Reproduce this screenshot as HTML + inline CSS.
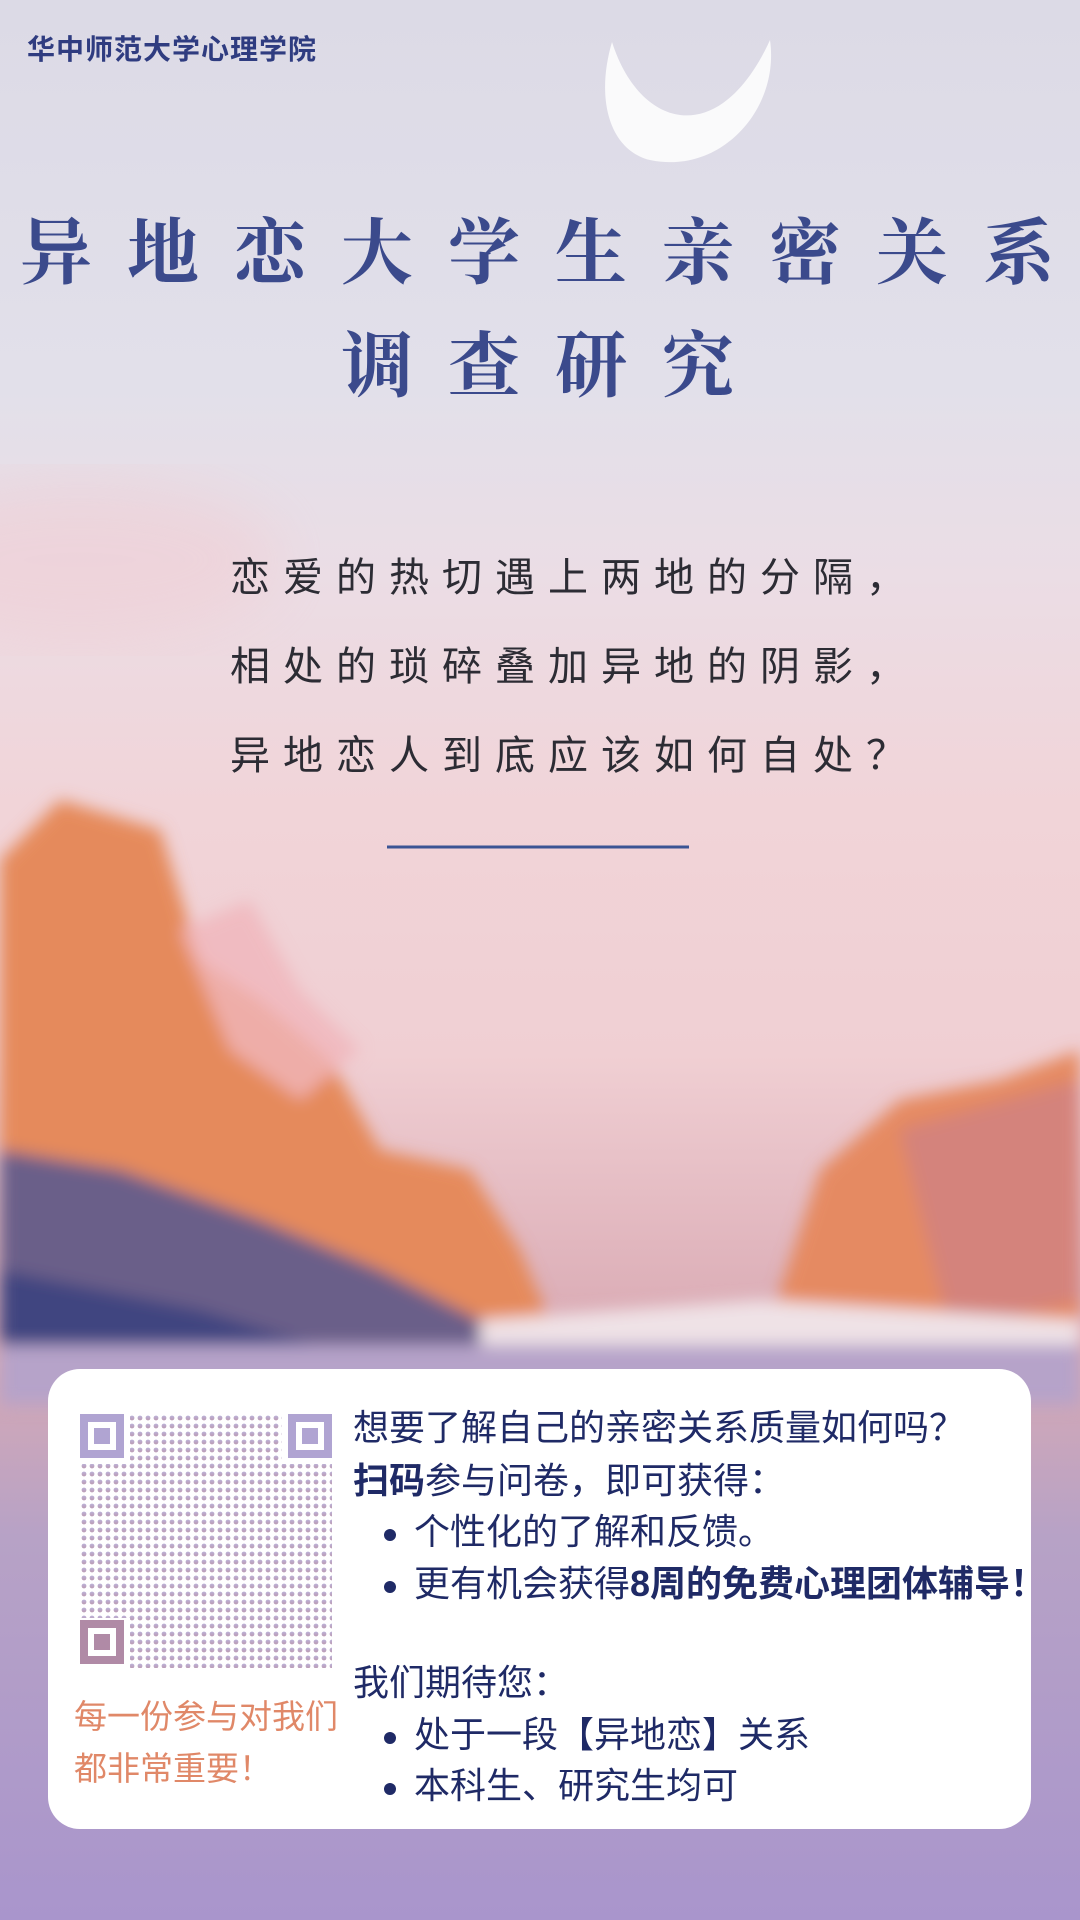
<!DOCTYPE html>
<html lang="zh">
<head>
<meta charset="utf-8">
<style>
html,body{margin:0;padding:0}
body{width:1080px;height:1920px;position:relative;overflow:hidden;font-family:"Liberation Sans","Noto Sans CJK SC",sans-serif;}
#bg{position:absolute;left:0;top:0}
.abs{position:absolute}
.hdr{left:27px;top:28px;font-size:28px;font-weight:bold;color:#2f3c80;letter-spacing:1px}
.title{color:#3b4a8c;font-weight:bold;font-family:"Noto Serif CJK SC","Noto Sans CJK SC",serif;white-space:nowrap;font-size:72px;letter-spacing:35px}
.poem{left:230px;font-size:40px;color:#2c2c34;letter-spacing:13px;white-space:nowrap}
.card{left:48px;top:1369px;width:983px;height:460px;background:#fff;border-radius:32px}
.rt{position:absolute;left:305px;font-size:36px;color:#1f2a66;white-space:nowrap}
.bul{position:relative;left:61px}
.bul::before{content:"";position:absolute;left:-30px;top:18px;width:12px;height:12px;border-radius:50%;background:#1f2a66}
.or{position:absolute;left:26px;font-size:33px;color:#e08868;white-space:nowrap}
</style>
</head>
<body>
<svg id="bg" width="1080" height="1920">
<defs>
<linearGradient id="sky" x1="0" y1="0" x2="0" y2="1">
<stop offset="0" stop-color="#dcdae6"/><stop offset="0.2" stop-color="#e2e0ea"/>
<stop offset="0.3" stop-color="#ebdde5"/><stop offset="0.42" stop-color="#f1d4d8"/>
<stop offset="0.55" stop-color="#f0cfd3"/><stop offset="0.7" stop-color="#d9a9b3"/>
<stop offset="0.8" stop-color="#b7a2c6"/><stop offset="1" stop-color="#a995cc"/>
</linearGradient>
<filter id="b1"><feGaussianBlur stdDeviation="30"/></filter>
<filter id="b2"><feGaussianBlur stdDeviation="8"/></filter>
</defs>
<rect width="1080" height="1920" fill="url(#sky)"/>
<ellipse cx="80" cy="560" rx="200" ry="80" fill="#f2c9cf" opacity="0.45" filter="url(#b1)"/>
<g filter="url(#b2)">
<polygon points="0,860 60,800 110,815 160,830 200,960 260,1000 330,1060 380,1150 470,1170 520,1250 560,1345 0,1345" fill="#e58a5c"/>
<polygon points="180,930 250,900 300,990 360,1050 300,1100 230,1050" fill="#f0b5bb" opacity="0.8"/>
<polygon points="760,1350 820,1170 900,1100 1000,1080 1080,1050 1080,1350" fill="#e58a62"/>
<polygon points="900,1130 1080,1080 1080,1300 950,1330" fill="#c87e8e" opacity="0.6"/>
<polygon points="0,1150 120,1170 260,1220 380,1270 480,1320 500,1350 0,1350" fill="#5c5a8e" opacity="0.9"/>
<polygon points="0,1270 200,1310 330,1350 0,1360" fill="#3d4280" opacity="0.9"/>
<polygon points="480,1320 760,1300 1080,1320 1080,1360 480,1360" fill="#efe2e6"/>
<rect x="0" y="1345" width="1080" height="60" fill="#b6a3c9"/>
</g>
<path d="M612,42 C640,130 720,150 770,40 C780,110 720,175 650,160 C610,150 595,100 612,42Z" fill="#fafafb"/>
<line x1="387" y1="847" x2="689" y2="847" stroke="#3b5494" stroke-width="3"/>
</svg>

<div class="abs hdr">华中师范大学心理学院</div>
<div class="abs title" style="left:20px;top:195px">异地恋大学生亲密关系</div>
<div class="abs title" style="left:341px;top:308px">调查研究</div>

<div class="abs poem" style="top:545px">恋爱的热切遇上两地的分隔，</div>
<div class="abs poem" style="top:634px">相处的琐碎叠加异地的阴影，</div>
<div class="abs poem" style="top:723px">异地恋人到底应该如何自处？</div>

<div class="abs card">
<svg class="abs" style="left:32px;top:45px" width="252" height="254">
<defs><linearGradient id="qg" x1="0" y1="0" x2="0" y2="1"><stop offset="0" stop-color="#b0a4d2"/><stop offset="1" stop-color="#b08aa6"/></linearGradient>
<pattern id="dots" width="8" height="8" patternUnits="userSpaceOnUse"><circle cx="4" cy="4" r="2.4" fill="url(#qg)"/></pattern></defs>
<rect x="0" y="0" width="252" height="254" fill="url(#dots)" opacity="0.85"/>
<g fill="#fff"><rect x="0" y="0" width="50" height="50"/><rect x="202" y="0" width="50" height="50"/><rect x="0" y="204" width="50" height="50"/></g>
<g fill="none" stroke-width="8"><rect x="4" y="4" width="36" height="36" stroke="#b0a4d2"/><rect x="212" y="4" width="36" height="36" stroke="#b0a4d2"/><rect x="4" y="210" width="36" height="36" stroke="#b08aa6"/></g>
<rect x="14" y="14" width="16" height="16" fill="#b0a4d2"/><rect x="222" y="14" width="16" height="16" fill="#b0a4d2"/><rect x="14" y="220" width="16" height="16" fill="#b08aa6"/>
</svg>
<div class="or" style="top:321px">每一份参与对我们</div>
<div class="or" style="top:373px">都非常重要！</div>

<div class="rt" style="top:30px">想要了解自己的亲密关系质量如何吗？</div>
<div class="rt" style="top:83px"><b>扫码</b>参与问卷，即可获得：</div>
<div class="rt" style="top:134px"><span class="bul">个性化的了解和反馈。</span></div>
<div class="rt" style="top:186px"><span class="bul">更有机会获得<b>8周的免费心理团体辅导！</b></span></div>
<div class="rt" style="top:285px">我们期待您：</div>
<div class="rt" style="top:337px"><span class="bul">处于一段【异地恋】关系</span></div>
<div class="rt" style="top:388px"><span class="bul">本科生、研究生均可</span></div>
</div>
</body>
</html>
